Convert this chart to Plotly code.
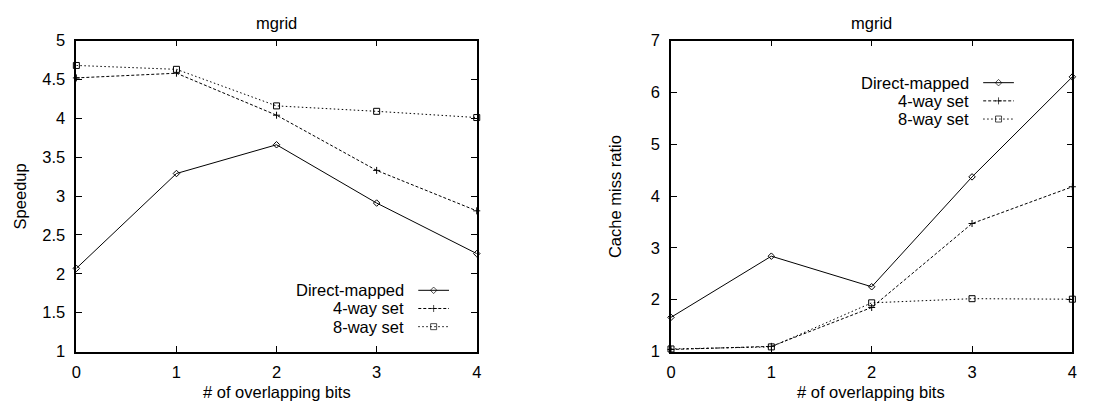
import plotly.graph_objects as go

W, H = 1119, 417

bits = [0, 1, 2, 3, 4]
series_names = ["Direct-mapped", "4-way set", "8-way set"]

speedup_direct = [2.07, 3.29, 3.66, 2.91, 2.26]
speedup_4way = [4.52, 4.58, 4.04, 3.33, 2.81]
speedup_8way = [4.68, 4.63, 4.16, 4.09, 4.01]

miss_direct = [1.66, 2.84, 2.25, 4.37, 6.30]
miss_4way = [1.04, 1.10, 1.85, 3.47, 4.18]
miss_8way = [1.05, 1.09, 1.94, 2.02, 2.01]

speedup_ticks = [1, 1.5, 2, 2.5, 3, 3.5, 4, 4.5, 5]
miss_ticks = [1, 2, 3, 4, 5, 6, 7]

FONT = "Liberation Sans, Arial, sans-serif"
FS = 16.5

styles = [
    dict(dash="solid", symbol="diamond-open", size=5),
    dict(dash="3px,2px", symbol="cross-thin-open", size=5),
    dict(dash="1.5px,2.5px", symbol="square-open", size=6),
]

fig = go.Figure()

def px_x(p):
    return p / W

def px_y(p):
    return 1 - p / H

ydom = [px_y(358), px_y(33)]
left_dom = [px_x(72), px_x(476)]
right_dom = [px_x(672), px_x(1077)]

for vals, st, name in zip([speedup_direct, speedup_4way, speedup_8way], styles, series_names):
    fig.add_trace(go.Scatter(
        x=bits, y=vals, mode="lines+markers", name=name, showlegend=False,
        line=dict(color="black", width=1, dash=st["dash"]),
        marker=dict(symbol=st["symbol"], size=st["size"], color="black",
                    line=dict(color="black", width=1)),
        xaxis="x", yaxis="y", cliponaxis=False))

for vals, st, name in zip([miss_direct, miss_4way, miss_8way], styles, series_names):
    fig.add_trace(go.Scatter(
        x=bits, y=vals, mode="lines+markers", name=name, showlegend=False,
        line=dict(color="black", width=1, dash=st["dash"]),
        marker=dict(symbol=st["symbol"], size=st["size"], color="black",
                    line=dict(color="black", width=1)),
        xaxis="x2", yaxis="y2", cliponaxis=False))

# custom gnuplot-style legends (text left, sample right) on a paper-sized hidden axis
legend_specs = [
    (405, 417, 448, [294, 313, 332]),
    (975, 987, 1018, [77, 96, 115]),
]
for text_right, s0, s1, rows in legend_specs:
    for st, name, ry in zip(styles, series_names, rows):
        fig.add_trace(go.Scatter(
            x=[px_x(s0), px_x((s0 + s1) / 2), px_x(s1)],
            y=[px_y(ry)] * 3, mode="lines+markers", showlegend=False,
            hoverinfo="skip",
            line=dict(color="black", width=1, dash=st["dash"]),
            marker=dict(symbol=st["symbol"], size=[0, st["size"], 0], color="black",
                        line=dict(color="black", width=1)),
            xaxis="x3", yaxis="y3"))
        fig.add_annotation(x=px_x(text_right), y=px_y(ry), xref="paper", yref="paper",
                           text=name, showarrow=False, xanchor="right", yanchor="middle",
                           font=dict(family=FONT, size=FS, color="black"))

axis_common = dict(
    showgrid=False, zeroline=False, showline=True, linecolor="black", linewidth=1.5,
    mirror="allticks", ticks="inside", ticklen=6, tickcolor="black", tickwidth=1,
    tickfont=dict(family=FONT, size=FS, color="black"),
)

fig.update_layout(
    width=W, height=H, margin=dict(l=0, r=0, t=0, b=0),
    paper_bgcolor="white", plot_bgcolor="rgba(0,0,0,0)",
    xaxis=dict(domain=left_dom, range=[0, 4], tickvals=bits, anchor="y",
               ticklabelstandoff=5, **axis_common),
    yaxis=dict(domain=ydom, range=[1, 5], tickvals=speedup_ticks, anchor="x",
               ticklabelstandoff=6, **axis_common),
    xaxis2=dict(domain=right_dom, range=[0, 4], tickvals=bits, anchor="y2",
                ticklabelstandoff=5, **axis_common),
    yaxis2=dict(domain=ydom, range=[1, 7], tickvals=miss_ticks, anchor="x2",
                ticklabelstandoff=6, **axis_common),
    xaxis3=dict(domain=[0, 1], range=[0, 1], visible=False, anchor="y3", fixedrange=True),
    yaxis3=dict(domain=[0, 1], range=[0, 1], visible=False, anchor="x3", fixedrange=True),
)

annots = [
    dict(x=px_x(274), y=px_y(15), text="mgrid"),
    dict(x=px_x(874), y=px_y(15), text="mgrid"),
    dict(x=px_x(274), y=px_y(400), text="# of overlapping bits"),
    dict(x=px_x(874), y=px_y(400), text="# of overlapping bits"),
]
for a in annots:
    fig.add_annotation(xref="paper", yref="paper", showarrow=False,
                       xanchor="center", yanchor="middle",
                       font=dict(family=FONT, size=FS, color="black"), **a)
fig.add_annotation(x=px_x(15), y=px_y(196), xref="paper", yref="paper", text="Speedup",
                   textangle=-90, showarrow=False, xanchor="center", yanchor="middle",
                   font=dict(family=FONT, size=FS, color="black"))
fig.add_annotation(x=px_x(615), y=px_y(196), xref="paper", yref="paper", text="Cache miss ratio",
                   textangle=-90, showarrow=False, xanchor="center", yanchor="middle",
                   font=dict(family=FONT, size=FS, color="black"))

fig.write_html("out.html")
